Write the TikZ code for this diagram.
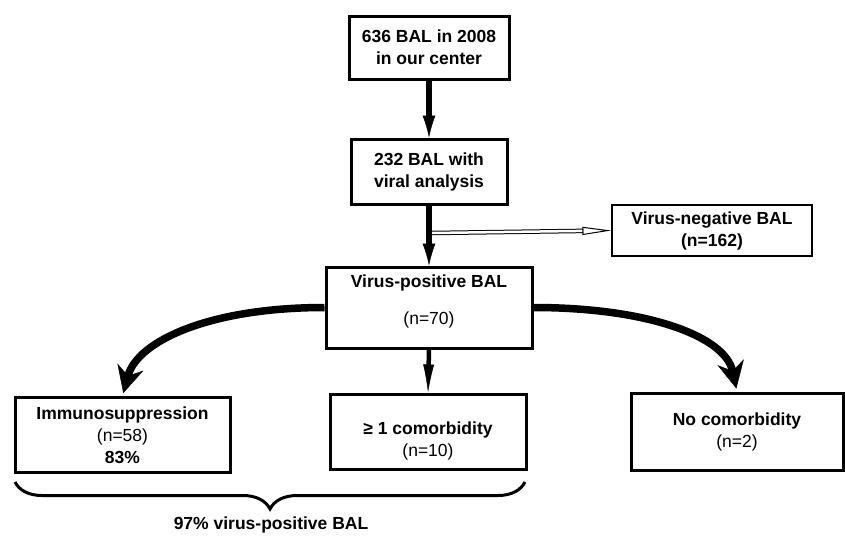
\documentclass[tikz,border=0pt]{standalone}
\usepackage{fontspec}
\setmainfont{Liberation Sans}
\usetikzlibrary{arrows.meta,decorations.pathreplacing}

\tikzset{
  box/.style={draw, line width=3pt, align=center, inner sep=0pt},
  thinbox/.style={draw, line width=1.3pt, align=center, inner sep=0pt},
  bigarrow/.style={line width=6pt, -{Latex[length=22pt,width=13pt,line width=0.5pt]}},
  midarrow/.style={line width=4.5pt, -{Latex[length=28pt,width=11pt,line width=0.5pt]}},
  curvearrow/.style={line width=7.5pt, shorten >=3pt,
    -{Stealth[length=27pt,width=27pt,inset=9pt,line width=0.5pt]}},
}

\begin{document}
\fontsize{17.5}{22}\selectfont
\begin{tikzpicture}[x=1pt,y=-1pt,>=Latex]
  \useasboundingbox (0,0) rectangle (845,536);
  % main column
  \node[box, minimum width=160pt, minimum height=63pt, font=\bfseries] (all) at (429,47.5) {636 BAL in 2008\\in our center};
  \node[box, minimum width=156pt, minimum height=65pt, font=\bfseries] (viral) at (429,171.5) {232 BAL with\\viral analysis};
  \node[box, minimum width=206pt, minimum height=81pt] (pos) at (429,307.5) {};
  \node[font=\bfseries] (posname) at (429,283) {Virus-positive BAL};
  \node (posn) at (429,320) {(n=70)};
  \node[thinbox, minimum width=200pt, minimum height=51pt, font=\bfseries] (neg) at (712,230.5) {Virus-negative BAL\\(n=162)};
  % groups
  \node[box, minimum width=215pt, minimum height=75pt] (immuno) at (122.5,435) {\textbf{Immunosuppression}\\(n=58)\\\textbf{83\%}};
  \node[box, minimum width=196pt, minimum height=75pt] (comorb) at (428,431.5) {};
  \node[align=center] (comorbt) at (428,441) {\textbf{≥ 1 comorbidity}\\(n=10)};
  \node[box, minimum width=212pt, minimum height=77pt] (nocomorb) at (737,431.5) {\textbf{No comorbidity}\\(n=2)};

  \draw[bigarrow] (all.south) -- (viral.north);
  \draw[bigarrow] (viral.south) -- (pos.north);
  \coordinate (split) at (432,233);
  \draw[line width=1pt, double, double distance=2.5pt, shorten >=28pt] (split) -- (neg.west);
  \draw[line width=1pt, shorten <=151pt, -{Triangle[open,length=29pt,width=8pt]}] (split) -- (neg.west);

  \draw[midarrow] (pos.south) -- (comorb.north);
  \draw[curvearrow] (pos.west) .. controls +(-115,0) and +(15,-55) .. (immuno.north);
  \draw[curvearrow] (pos.east) .. controls +(115,0) and +(-12,-55) .. (nocomorb.north);

  % brace under the first two groups
  \coordinate (bl) at (15,482);
  \coordinate (br) at (525,482);
  \draw[line width=3pt, decorate, decoration={brace, mirror, amplitude=27pt}] (bl) -- (br);
  \node[font=\bfseries] (share) at (271,525) {97\% virus-positive BAL};
\end{tikzpicture}
\end{document}
